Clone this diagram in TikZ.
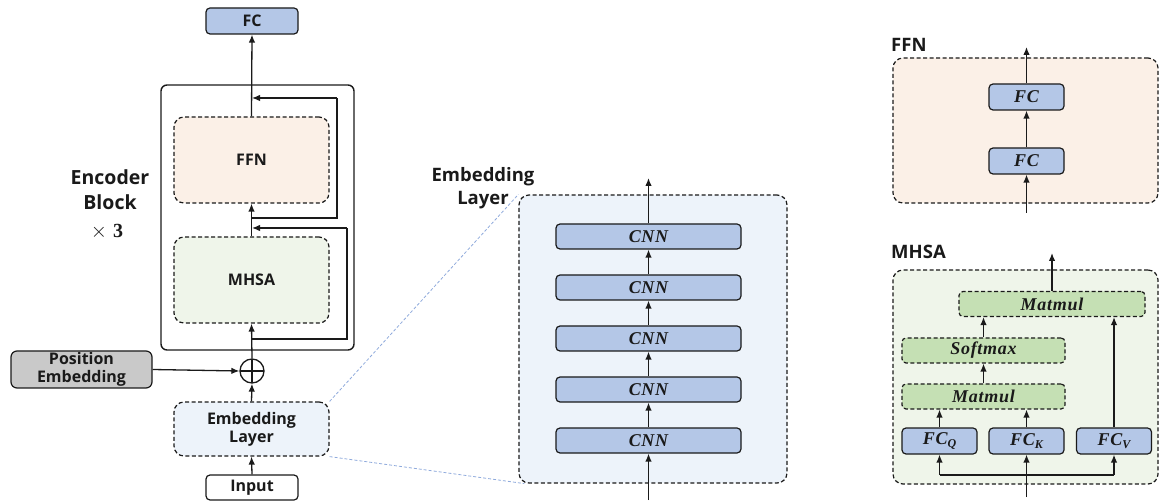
\documentclass[tikz,border=0pt]{standalone}
\usepackage{fontspec}
\setmainfont{Open Sans}
\newfontfamily\mathlike{Liberation Serif}[LetterSpace=4]
\newfontfamily\plainserif{Liberation Serif}
\usetikzlibrary{arrows.meta}
\definecolor{fcblue}{HTML}{B4C7E7}
\definecolor{ffnbg}{HTML}{FBF0E7}
\definecolor{mhsabg}{HTML}{EFF5EA}
\definecolor{embbg}{HTML}{EDF3FA}
\definecolor{mmgreen}{HTML}{C5E0B4}
\definecolor{posgray}{HTML}{C9C9C9}
\definecolor{zoomline}{HTML}{8FAADC}
\definecolor{ink}{HTML}{1A1A1A}
\newcommand{\mtxt}[1]{{\mathlike\bfseries\itshape #1}}
\newcommand{\msub}[2]{{\mathlike\bfseries\itshape #1\raisebox{-3.5pt}{\fontsize{12}{12}\selectfont #2}}}
\tikzset{
  base/.style={rounded corners=4pt, line width=1.2pt, draw=ink, text=ink, inner sep=0pt, font=\fontsize{16}{18}\selectfont\bfseries, align=center},
  solidbox/.style={base},
  dashbox/.style={base, dash pattern=on 4pt off 2.5pt},
  bigdash/.style={base, rounded corners=10pt, dash pattern=on 4pt off 2.5pt},
  arr/.style={line width=1.3pt, draw=ink, -{Latex[length=8pt,width=6.5pt]}},
  ln/.style={line width=1.3pt, draw=ink},
  zl/.style={draw=zoomline, line width=0.8pt, dash pattern=on 3pt off 2pt},
  lbl/.style={text=ink, font=\fontsize{18.5}{20}\selectfont\bfseries, inner sep=0pt, align=center},
  mfont/.style={font=\fontsize{18}{20}\selectfont},
}
\begin{document}
\begin{tikzpicture}[x=1pt,y=-1pt]
\useasboundingbox (0,0) rectangle (1159,502);
% ===== Encoder overview =====
\node[solidbox, fill=fcblue, minimum width=92pt, minimum height=26pt] (fc) at (252,21) {FC};
\node[base, rounded corners=6pt, line width=1.4pt, minimum width=193pt, minimum height=265pt] (encblock) at (257.5,217.5) {};
\node[bigdash, fill=ffnbg, minimum width=155pt, minimum height=86pt] (ffn) at (251.5,160) {FFN};
\node[bigdash, fill=mhsabg, minimum width=155pt, minimum height=86pt] (mhsa) at (251.5,280) {MHSA};
\node[solidbox, rounded corners=6pt, fill=posgray, minimum width=141pt, minimum height=37pt, font=\fontsize{16}{17.5}\selectfont\bfseries] (pos) at (81.5,369.5) {Position\\Embedding};
\node[draw=ink, line width=1.3pt, circle, minimum size=24pt, inner sep=0pt,
  path picture={\draw[line width=1.2pt, draw=ink] (path picture bounding box.north) -- (path picture bounding box.south) (path picture bounding box.west) -- (path picture bounding box.east);}] (plus) at (252,371) {};
\node[bigdash, fill=embbg, minimum width=155pt, minimum height=54pt, font=\fontsize{16}{18}\selectfont\bfseries] (emb) at (251.5,429) {Embedding\\Layer};
\node[solidbox, fill=white, minimum width=92pt, minimum height=25pt] (input) at (252,487.5) {Input};
\node[lbl, font=\fontsize{19.5}{25}\selectfont\bfseries] (enclbl) at (110,190) {Encoder\\Block};
\node[lbl] (times) at (107,232) {{\plainserif\fontsize{22}{22}\selectfont$\times$}\hspace{6pt}{\plainserif\bfseries\fontsize{20}{22}\selectfont 3}};

\draw[arr] (input.north) -- (emb.south);
\draw[arr] (emb.north) -- (plus.south);
\draw[arr] (pos.east) -- (plus.west);
\draw[arr] (plus.north) -- (mhsa.south);
\draw[arr] (mhsa.north) -- (ffn.south);
\draw[arr] (ffn.north) -- (fc.south);
\coordinate (s1) at (252,339);
\coordinate (j1) at (252,228);
\coordinate (s2) at (252,218);
\coordinate (j2) at (252,98);
\draw[ln] (s1) -- (347,339) -- (347,228);
\draw[arr] (347,228) -- (j1);
\draw[ln] (s2) -- (337,218) -- (337,98);
\draw[arr] (337,98) -- (j2);

% ===== Embedding layer detail =====
\node[bigdash, fill=embbg, minimum width=268pt, minimum height=288pt] (bigemb) at (653,339) {};
\node[lbl, font=\fontsize{18.5}{23}\selectfont\bfseries] (emblbl) at (483,188) {Embedding\\Layer};
\draw[zl] (emb.north east) -- (bigemb.north west);
\draw[zl] (emb.south east) -- ([xshift=6pt]bigemb.south west);
\foreach \i/\yy in {1/236.5, 2/287.5, 3/338.5, 4/389.5, 5/440.5}{
  \node[solidbox, fill=fcblue, minimum width=185pt, minimum height=25pt, mfont] (cnn\i) at (648.5,\yy) {\mtxt{CNN}};
}
\coordinate (embout) at (648.5,178);
\coordinate (embin) at (648.5,500);
\draw[arr] (cnn1.north) -- (embout);
\draw[arr] (cnn2.north) -- (cnn1.south);
\draw[arr] (cnn3.north) -- (cnn2.south);
\draw[arr] (cnn4.north) -- (cnn3.south);
\draw[arr] (cnn5.north) -- (cnn4.south);
\draw[arr] (embin) -- (cnn5.south);

% ===== FFN detail =====
\node[bigdash, fill=ffnbg, minimum width=265pt, minimum height=145pt] (ffnd) at (1025.5,130.5) {};
\node[lbl, anchor=west] (ffnlbl) at (891,45) {FFN};
\node[solidbox, fill=fcblue, minimum width=75pt, minimum height=26pt, mfont] (fca) at (1026.5,97) {\mtxt{FC}};
\node[solidbox, fill=fcblue, minimum width=75pt, minimum height=26pt, mfont] (fcb) at (1026.5,161) {\mtxt{FC}};
\coordinate (ffnout) at (1026.5,47);
\coordinate (ffnin) at (1026.5,213);
\draw[arr] (ffnin) -- (fcb.south);
\draw[arr] (fcb.north) -- (fca.south);
\draw[arr] (fca.north) -- (ffnout);

% ===== MHSA detail =====
\node[bigdash, fill=mhsabg, minimum width=265pt, minimum height=214pt] (mhsad) at (1025.5,377) {};
\node[lbl, anchor=west] (mhsalbl) at (891,252) {MHSA};
\tikzset{gbox/.style={dashbox, fill=mmgreen, minimum height=25pt, mfont}}
\node[gbox, minimum width=186pt] (mm2) at (1052,304) {\mtxt{Matmul}};
\node[gbox, minimum width=163pt] (sm) at (983.5,350.5) {\mtxt{Softmax}};
\node[gbox, minimum width=163pt] (mm1) at (983.5,396.5) {\mtxt{Matmul}};
\tikzset{qbox/.style={solidbox, fill=fcblue, minimum width=75pt, minimum height=26pt, mfont}}
\node[qbox] (fcq) at (939.5,441) {\msub{FC}{Q}};
\node[qbox] (fck) at (1026.5,441) {\msub{FC}{K}};
\node[qbox] (fcv) at (1114,441) {\msub{FC}{V}};
\draw[arr] (fcq.north) -- (fcq.north |- mm1.south);
\draw[arr] (fck.north) -- (fck.north |- mm1.south);
\draw[arr] (fcv.north) -- (fcv.north |- mm2.south);
\draw[arr] (mm1.north) -- (sm.south);
\draw[arr] (sm.north) -- (sm.north |- mm2.south);
\coordinate (mhsaout) at (1052,253);
\draw[arr] (mm2.north) -- (mhsaout);
\coordinate (mhsain) at (1026.5,497);
\coordinate (jn) at (1026.5,475);
\draw[arr] (mhsain) -- (fck.south);
\draw[ln] (fcq.south |- jn) -- (fcv.south |- jn);
\draw[arr] (fcq.south |- jn) -- (fcq.south);
\draw[arr] (fcv.south |- jn) -- (fcv.south);
\end{tikzpicture}
\end{document}
